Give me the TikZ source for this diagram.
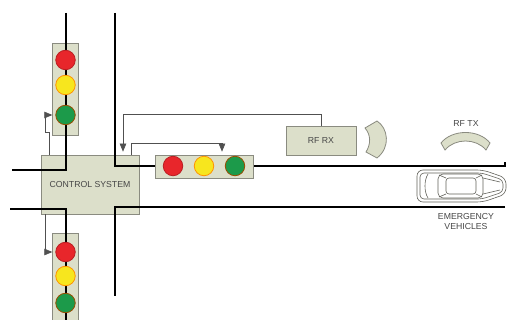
\documentclass[tikz,border=0pt]{standalone}
\usepackage{fontspec}
\setmainfont{Liberation Sans}
\usetikzlibrary{arrows.meta,calc}

\definecolor{panel}{HTML}{DCDFCA}
\definecolor{edge}{HTML}{8A8B80}
\definecolor{wirec}{HTML}{505050}
\definecolor{ink}{HTML}{474747}
\definecolor{lampred}{HTML}{E8262B}
\definecolor{lampyel}{HTML}{F7E61E}
\definecolor{lampgrn}{HTML}{1C9A4A}

\tikzset{
  unit/.style={draw=edge, fill=panel, line width=0.7pt, inner sep=0pt, text=ink,
    font=\fontsize{8.7}{10}\selectfont},
  antenna/.style={draw=edge, fill=panel, line width=0.8pt},
  lamp/.style={circle, minimum size=19.5pt, inner sep=0pt, line width=0.8pt},
  redlamp/.style={lamp, fill=lampred, draw=lampred!80!black},
  yellamp/.style={lamp, fill=lampyel, draw=orange!85!yellow},
  grnlamp/.style={lamp, fill=lampgrn, draw=orange!60!black},
  road/.style={line width=2.6pt, black},
  wire/.style={line width=0.6pt, wirec, -{Triangle[length=8pt,width=6.5pt]}, shorten >=3pt},
  tag/.style={text=ink, font=\fontsize{8.7}{10}\selectfont, align=center, inner sep=0pt},
  carline/.style={draw=edge!70!black, line width=0.6pt}
}

\begin{document}
\begin{tikzpicture}[x=1pt,y=-1pt]
\clip (0,0) rectangle (508,320);
\fill[white] (0,0) rectangle (508,320);

% Control unit
\node[unit, minimum width=98pt, minimum height=59pt] (ctrl) at (90,184.5) {CONTROL SYSTEM};

% Signal heads (vertical)
\node[unit, minimum width=26pt, minimum height=92pt] (sig1) at (65.5,89) {};
\node[unit, minimum width=26pt, minimum height=110pt] (sig2) at (65.5,288) {};

% Roads
\draw[road] (66,13) -- (66,170) -- (12,170);
\draw[road] (115,13) -- (115,166) -- (505,166) -- (505,162);
\draw[road] (10,209) -- (66,209) -- (66,322);
\draw[road] (505,207) -- (115,207) -- (115,296);

% Signal head (horizontal)
\node[unit, minimum width=98pt, minimum height=23pt] (sig3) at (204,166.5) {};

% Lamps
\node[redlamp] (r1) at (65.5,60) {};
\node[yellamp] (y1) at (65.5,85) {};
\node[grnlamp] (g1) at (65.5,115) {};
\node[redlamp] (r2) at (65.5,252) {};
\node[yellamp] (y2) at (65.5,276) {};
\node[grnlamp] (g2) at (65.5,303) {};
\node[redlamp] (r3) at (173,166) {};
\node[yellamp] (y3) at (204,166) {};
\node[grnlamp] (g3) at (235,166) {};

% Receiver
\node[unit, minimum width=70pt, minimum height=29pt] (rfrx) at (321,140.5) {RF RX};
\draw[antenna] (365,128) -- (377,121) .. controls (388,128) and (391,147) .. (377,158)
  -- (366,152) .. controls (371,144) and (371,135) .. cycle;

% Transmitter
\draw[antenna] (441,143) .. controls (452,129) and (479,129) .. (490,143)
  -- (486,150) .. controls (476,138) and (455,138) .. (445,150) -- cycle;
\node[tag] (txlbl) at (466,124) {RF TX};

% Wires
\draw[wire] ([xshift=-41pt]ctrl.north) |- ++(-4,-22) |- (g1.west);
\draw[wire] ([xshift=-45pt]ctrl.south) |- (r2.west);
\draw[wire] (rfrx.north) -- ++(0,-11) -| ([xshift=33pt]ctrl.north);
\draw[wire] ([xshift=41pt]ctrl.north) -- ++(0,-11) -| ([xshift=18pt]sig3.north);

% Vehicle
\draw[carline, fill=white, rounded corners=6pt] (417,170) -- (483,170) -- (506,178)
  -- (506,194) -- (483,202) -- (417,202) -- cycle;
\draw[carline, rounded corners=4pt] (420,173) -- (482,173) -- (503,180)
  -- (503,192) -- (482,199) -- (420,199) -- cycle;
\draw[carline, rounded corners=5pt] (438,174) rectangle (483,198);
\draw[carline, rounded corners=3pt] (446,178) rectangle (476,194);
\draw[carline] (439,175) -- (446,178) (482,175) -- (476,178)
  (439,197) -- (446,194) (482,197) -- (476,194);
\draw[carline] (428,174) .. controls (424,180) and (424,192) .. (428,198);
\draw[carline] (483,178) -- (500,182) (483,194) -- (500,190);
\node[tag] (evlbl) at (466,222) {EMERGENCY\\VEHICLES};
\end{tikzpicture}
\end{document}
